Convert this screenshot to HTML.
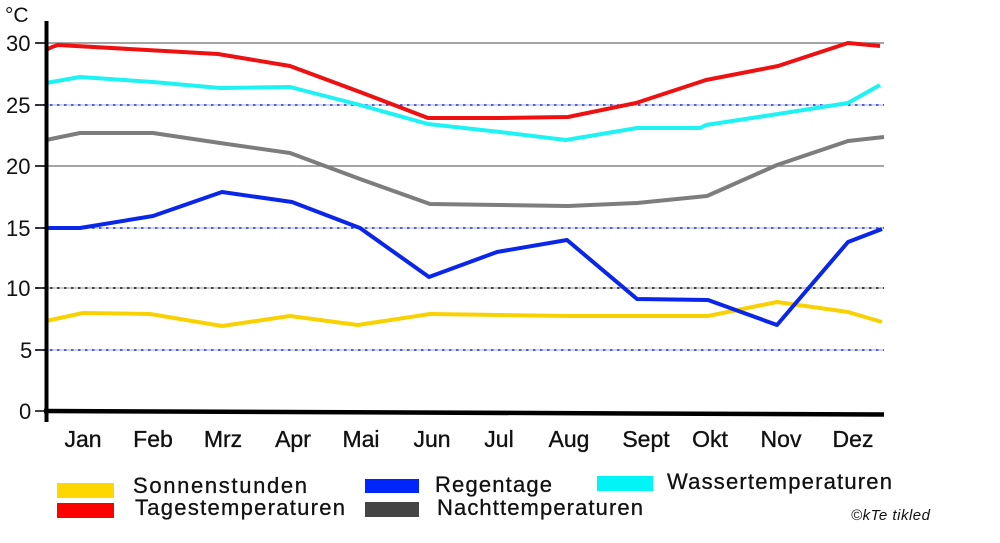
<!DOCTYPE html>
<html>
<head>
<meta charset="utf-8">
<style>
  html,body{margin:0;padding:0;background:#fff;}
  svg{display:block;}
  text{font-family:"Liberation Sans",Arial,sans-serif;fill:#111;}
</style>
</head>
<body>
<svg width="1000" height="543" viewBox="0 0 1000 543" xmlns="http://www.w3.org/2000/svg">
  <rect width="1000" height="543" fill="#fff"/>

  <!-- gridlines -->
  <line x1="36" y1="43" x2="884" y2="43" stroke="#858585" stroke-width="1.6"/>
  <line x1="36" y1="166" x2="884" y2="166" stroke="#858585" stroke-width="1.6"/>

  <g>
    <line x1="36" y1="105" x2="884" y2="105" stroke="#c4c9f2" stroke-width="1.4"/>
    <line x1="36" y1="105" x2="884" y2="105" stroke="#2233cc" stroke-width="1.6" stroke-dasharray="2.5,4.5"/>
    <line x1="36" y1="228" x2="884" y2="228" stroke="#c4c9f2" stroke-width="1.4"/>
    <line x1="36" y1="228" x2="884" y2="228" stroke="#2233cc" stroke-width="1.6" stroke-dasharray="2.5,4.5"/>
    <line x1="36" y1="350" x2="884" y2="350" stroke="#c4c9f2" stroke-width="1.4"/>
    <line x1="36" y1="350" x2="884" y2="350" stroke="#2233cc" stroke-width="1.6" stroke-dasharray="2.5,4.5"/>
    <line x1="36" y1="288" x2="884" y2="288" stroke="#bbbbbb" stroke-width="1.4"/>
    <line x1="36" y1="288" x2="884" y2="288" stroke="#111" stroke-width="1.6" stroke-dasharray="2.5,4.5"/>
  </g>

  <!-- tick marks -->
  <g stroke="#111" stroke-width="1.6">
    <line x1="35" y1="411" x2="46" y2="411"/>
    <line x1="35" y1="350" x2="46" y2="350"/>
    <line x1="35" y1="288" x2="46" y2="288"/>
    <line x1="35" y1="228" x2="46" y2="228"/>
    <line x1="35" y1="166" x2="46" y2="166"/>
    <line x1="35" y1="105" x2="46" y2="105"/>
    <line x1="35" y1="43" x2="46" y2="43"/>
  </g>

  <!-- series -->
  <g fill="none" stroke-width="4" stroke-linejoin="round" stroke-linecap="butt">
    <polyline stroke="#f8d200" points="46,321 83,313 150,314 222,326 290,316 358,325 430,314 500,315 568,316 637,316 708,316 777,302 848,312 882,322"/>
    <polyline stroke="#7d7d7d" points="46,140 80,133 153,133 220,143 290,153 360,179 430,204 500,205 568,206 637,203 707,196 777,165 848,141 884,137"/>
    <polyline stroke="#0a26e8" points="46,228 80,228 153,216 222,192 292,202 360,228 429,277 497,252 567,240 637,299 708,300 777,325 848,242 882,229"/>
    <polyline stroke="#1ff2f2" points="46,83 80,77 153,82 220,88 290,87 360,105 428,124 500,132 566,140 637,128 700,128 706,125 778,114 848,103 880,85"/>
    <polyline stroke="#ee1111" points="46,50 52,47 58,45 218,54 290,66 360,92 428,118 498,118 568,117 636,103 706,80 778,66 848,43 880,46"/>
  </g>

  <!-- axes -->
  <line x1="46.5" y1="21" x2="46.5" y2="422" stroke="#000" stroke-width="4"/>
  <line x1="44" y1="411" x2="884" y2="414.5" stroke="#000" stroke-width="4.5"/>

  <!-- y labels -->
  <g font-size="22">
    <text x="5" y="22" font-size="21">°C</text>
    <text x="6" y="51">30</text>
    <text x="6" y="113">25</text>
    <text x="6" y="174">20</text>
    <text x="6" y="236">15</text>
    <text x="6" y="296">10</text>
    <text x="20" y="358">5</text>
    <text x="19" y="419">0</text>
  </g>

  <!-- month labels -->
  <g font-size="23" text-anchor="middle" stroke="#111" stroke-width="0.35">
    <text x="83" y="447">Jan</text>
    <text x="153" y="447">Feb</text>
    <text x="223" y="447">Mrz</text>
    <text x="293" y="447">Apr</text>
    <text x="361" y="447">Mai</text>
    <text x="432" y="447">Jun</text>
    <text x="499" y="447">Jul</text>
    <text x="569" y="447">Aug</text>
    <text x="646" y="447">Sept</text>
    <text x="710" y="447">Okt</text>
    <text x="781" y="447">Nov</text>
    <text x="853" y="447">Dez</text>
  </g>

  <!-- legend -->
  <rect x="57" y="483" width="57" height="15" fill="#ffd700"/>
  <rect x="57" y="503" width="57" height="15" fill="#ff0000"/>
  <rect x="365" y="479" width="54" height="14" fill="#0026ff"/>
  <rect x="365" y="502" width="54" height="15" fill="#444444"/>
  <rect x="597" y="476" width="56" height="15" fill="#00f6f6"/>

  <g font-size="22" stroke="#111" stroke-width="0.3">
    <text x="133" y="493" textLength="174" lengthAdjust="spacing">Sonnenstunden</text>
    <text x="135" y="515" textLength="210" lengthAdjust="spacing">Tagestemperaturen</text>
    <text x="435" y="492" textLength="117" lengthAdjust="spacing">Regentage</text>
    <text x="437" y="515" textLength="206" lengthAdjust="spacing">Nachttemperaturen</text>
    <text x="667" y="489" textLength="225" lengthAdjust="spacing">Wassertemperaturen</text>
  </g>
  <text x="851" y="520" font-size="15" font-style="italic" textLength="79" lengthAdjust="spacing">©kTe tikled</text>
</svg>
</body>
</html>
